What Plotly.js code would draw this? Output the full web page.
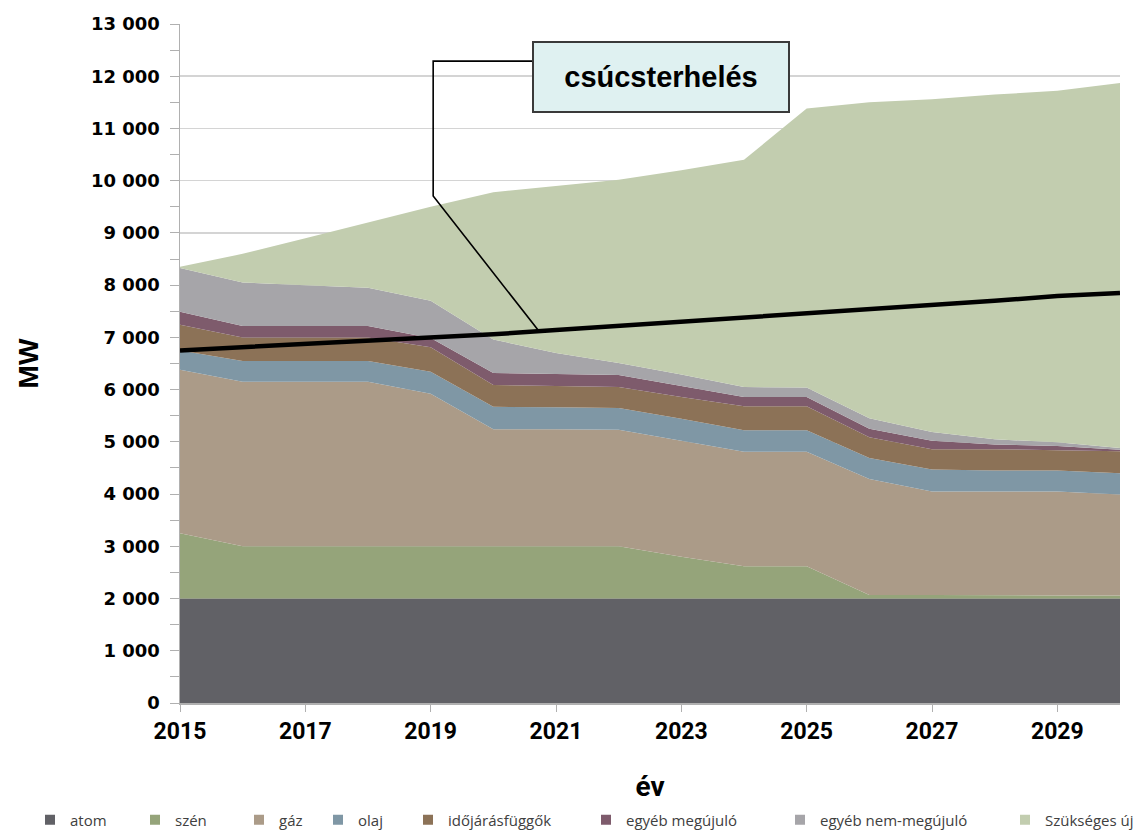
<!DOCTYPE html>
<html>
<head>
<meta charset="utf-8">
<script src="https://cdn.plot.ly/plotly-3.0.1.min.js"></script>
<style>html,body{margin:0;padding:0;background:#fff;}#chart{width:1148px;height:835px;}</style>
</head>
<body>
<div id="chart"></div>
<script>
const years = [2015,2016,2017,2018,2019,2020,2021,2022,2023,2024,2025,2026,2027,2028,2029,2030];
const atom = [2000,2000,2000,2000,2000,2000,2000,2000,2000,2000,2000,2000,2000,2000,2000,2000];
const szen = [1250,1000,1000,1000,1000,1000,1000,1000,800,620,620,70,70,60,60,60];
const gaz = [3130,3150,3150,3150,2920,2240,2240,2230,2220,2190,2190,2220,1980,1990,1990,1930];
const olaj = [370,400,400,400,420,430,420,420,420,410,410,400,420,400,400,410];
const idojarasfuggok = [490,450,450,450,470,420,410,400,420,460,460,400,390,410,390,420];
const egyebMegujulo = [250,220,220,220,180,230,230,230,210,180,180,160,160,90,80,30];
const egyebNemMegujulo = [840,830,780,730,710,640,400,230,220,190,180,200,170,100,70,30];
const szuksegesUj = [20,550,900,1250,1800,2820,3200,3510,3910,4350,5340,6050,6370,6600,6730,6990];
const csucsterheles = [6750,6810,6860,6920,6990,7060,7140,7220,7300,7370,7440,7520,7610,7700,7790,7850];

const seriesNames = ['atom','szén','gáz','olaj','időjárásfüggők','egyéb megújuló','egyéb nem-megújuló','Szükséges új'];
const seriesValues = [atom, szen, gaz, olaj, idojarasfuggok, egyebMegujulo, egyebNemMegujulo, szuksegesUj];
const seriesColors = ['#616166','#95a47a','#ab9b88','#7f97a5','#8c7257','#7e5b6c','#a6a5a9','#c2cdaf'];
const legendX = [30, 135, 239, 318, 408, 586, 780, 1005];

const tickYears = [2015,2017,2019,2021,2023,2025,2027,2029];
const annotationText = 'csúcsterhelés';

const traces = [];
seriesNames.forEach((name, i) => {
  traces.push({
    type: 'scatter', mode: 'lines', x: years, y: seriesValues[i],
    stackgroup: 'one', name: name, showlegend: false,
    line: {width: 0, color: seriesColors[i]}, fillcolor: seriesColors[i],
    hoverinfo: 'x+y+name'
  });
});
traces.push({
  type: 'scatter', mode: 'lines', x: years, y: csucsterheles, name: annotationText,
  showlegend: false, line: {color: '#000', width: 4.5}
});
seriesNames.forEach((name, i) => {
  traces.push({
    type: 'scatter', mode: 'markers', x: [null], y: [null], name: name,
    marker: {symbol: 'square', size: 10, color: seriesColors[i]},
    legend: i === 0 ? 'legend' : 'legend' + (i + 1), showlegend: true
  });
});

const layout = {
  width: 1148, height: 835,
  margin: {l: 180, r: 28, t: 24, b: 132},
  paper_bgcolor: '#fff', plot_bgcolor: '#fff',
  separators: ', ',
  showlegend: true,
  xaxis: {
    range: [2015, 2030], tickvals: tickYears, ticktext: tickYears.map(String),
    ticks: 'outside', ticklen: 7, tickcolor: '#b0b0b0', showgrid: false, zeroline: false,
    showline: true, linecolor: '#b0b0b0', linewidth: 1.5,
    tickfont: {family: 'Roboto', size: 23, color: '#000', weight: 'bold'},
    title: {text: 'év', font: {family: 'Roboto', size: 28, color: '#000', weight: 'bold'}, standoff: 34}
  },
  yaxis: {
    range: [0, 13000], dtick: 1000, tickformat: ',d',
    ticks: 'outside', ticklen: 9, tickcolor: '#b0b0b0', ticklabelstandoff: 6,
    minor: {dtick: 500, ticks: 'outside', ticklen: 9, tickcolor: '#b0b0b0', showgrid: false},
    showgrid: true, gridcolor: '#d4d4d4', gridwidth: 1.5, zeroline: false,
    showline: true, linecolor: '#b0b0b0', linewidth: 1.5,
    tickfont: {family: 'DejaVu Sans', size: 18, color: '#000', weight: 'bold'},
    title: {text: 'MW', font: {family: 'Liberation Sans', size: 28, color: '#000', weight: 'bold'}, standoff: 44}
  },
  annotations: [{
    xref: 'x', yref: 'y', x: 2022.67, y: 11985, text: annotationText, showarrow: false,
    font: {family: 'Liberation Sans', size: 29, color: '#000', weight: 'bold'},
    bgcolor: '#dff1f1', bordercolor: '#3a3a3a', borderwidth: 2, width: 252, height: 66
  }],
  shapes: [{
    type: 'path', xref: 'x', yref: 'y',
    path: 'M2020.62,12290 L2019.04,12290 L2019.04,9707 L2020.72,7130',
    line: {color: '#000', width: 1.6}
  }]
};
seriesNames.forEach((name, i) => {
  const key = i === 0 ? 'legend' : 'legend' + (i + 1);
  layout[key] = {
    x: legendX[i] / 1148, y: 1 - 820 / 835, xref: 'container', yref: 'container',
    xanchor: 'left', yanchor: 'middle', orientation: 'h', bgcolor: 'rgba(0,0,0,0)',
    borderwidth: 0, itemwidth: 30, tracegroupgap: 0,
    font: {family: 'Open Sans', size: 15, color: '#404040'}
  };
});

Plotly.newPlot('chart', traces, layout, {displayModeBar: false, staticPlot: true});
</script>
</body>
</html>
